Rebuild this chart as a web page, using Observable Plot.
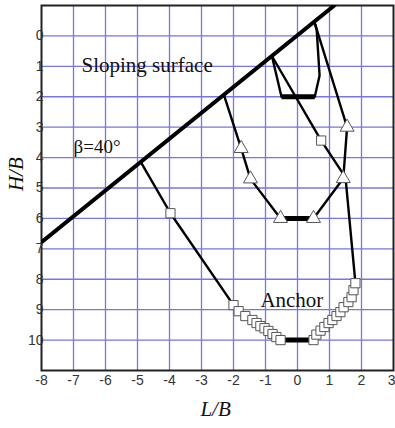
<!DOCTYPE html>
<html>
<head>
<meta charset="utf-8">
<script src="https://cdn.jsdelivr.net/npm/d3@7"></script>
<script src="https://cdn.jsdelivr.net/npm/@observablehq/plot@0.6"></script>
<style>
  body { margin: 0; background: #fff; }
</style>
</head>
<body>
<div id="chart"></div>
<script>
// Axis ticks (L/B horizontally, H/B downward)
const xTickValues = [-8, -7, -6, -5, -4, -3, -2, -1, 0, 1, 2];
const xLastTick = [3];
const yTickValues = [0, 1, 2, 3, 4, 5, 6, 7, 8, 9, 10];
const xGridValues = [-7, -6, -5, -4, -3, -2, -1, 0, 1, 2];
const yGridValues = [0, 1, 2, 3, 4, 5, 6, 7, 8, 9, 10];

// Sloping ground surface (beta = 40 deg)
const surfaceL = [-8, 1.15];
const surfaceH = [6.78, -1];

// Shallow failure surface (no markers)
const shallowL = [-0.8, -0.5, 0.54, 0.69, 0.6, 0.55];
const shallowH = [0.66, 2.0, 2.0, 1.3, -0.2, -0.39];

// Intermediate failure surface (triangles); marked = 1 where a symbol is drawn
const midL = [-2.3, -1.76, -1.47, -0.53, 0.5, 1.43, 1.55, 0.55];
const midH = [1.94, 3.7, 4.7, 6.0, 6.0, 4.69, 3.0, -0.39];
const midMarked = [0, 1, 1, 1, 1, 1, 1, 0];

// Deep failure surface (squares)
const deepL = [-4.9, -3.97, -2.0, -1.84, -1.63, -1.41, -1.28, -1.16, -1.03, -0.91, -0.78, -0.66, -0.53,
               0.5, 0.59, 0.72, 0.84, 0.97, 1.09, 1.22, 1.34, 1.44, 1.59, 1.69, 1.75, 1.81, 1.5, 0.74, -0.8];
const deepH = [4.14, 5.83, 8.85, 9.05, 9.21, 9.34, 9.44, 9.54, 9.61, 9.70, 9.80, 9.90, 10.0,
               10.0, 9.82, 9.69, 9.57, 9.44, 9.34, 9.21, 9.08, 8.92, 8.75, 8.59, 8.36, 8.13, 4.65, 3.44, 0.66];
const deepMarked = [0, 1, 1, 1, 1, 1, 1, 1, 1, 1, 1, 1, 1,
                    1, 1, 1, 1, 1, 1, 1, 1, 1, 1, 1, 1, 1, 0, 1, 0];

// Anchor plates at the three embedment depths
const anchorL1 = [-0.5, -0.53, -0.53];
const anchorL2 = [0.54, 0.5, 0.5];
const anchorH = [2, 6, 10];

// Annotations
const noteText = ["Sloping surface", "\u03B2=40\u00B0", "Anchor"];
const noteL = [-6.75, -7.0, -1.16];
const noteH = [0.95, 3.66, 8.7];

const pts = (L, H, M) => L.map((x, i) => ({x, y: H[i], m: M ? M[i] : 1}));
const surface = pts(surfaceL, surfaceH);
const shallow = pts(shallowL, shallowH);
const mid = pts(midL, midH, midMarked);
const deep = pts(deepL, deepH, deepMarked);
const anchors = anchorH.map((h, i) => ({x1: anchorL1[i], x2: anchorL2[i], y: h}));
const notes = noteText.map((t, i) => ({t, x: noteL[i], y: noteH[i], s: i === 1 ? 19 : 21}));

const serif = "Liberation Serif, Times New Roman, serif";
const sans = "Liberation Sans, Arial, sans-serif";
const gridColor = "#7676e4";
const tickStyle = {tickSize: 0, tickPadding: 5, fontSize: 14, color: "#333",
                   tickFormat: d => String(d), label: null};

const chart = Plot.plot({
  width: 395,
  height: 428,
  marginLeft: 41,
  marginRight: 2,
  marginTop: 5,
  marginBottom: 58,
  style: {fontFamily: sans, background: "#fff"},
  x: {domain: [-8, 3]},
  y: {domain: [-1, 11], reverse: true},
  marks: [
    Plot.gridX(xGridValues, {stroke: gridColor, strokeOpacity: 1, strokeWidth: 1.3}),
    Plot.gridY(yGridValues, {stroke: gridColor, strokeOpacity: 1, strokeWidth: 1.3}),
    Plot.text(notes, {x: "x", y: "y", text: "t", textAnchor: "start", fontFamily: serif,
                      fontSize: "s", fill: "#111", ariaLabel: "note"}),
    Plot.frame({stroke: "#222", strokeWidth: 2}),
    Plot.line(surface, {x: "x", y: "y", stroke: "#000", strokeWidth: 4, clip: true}),
    Plot.line(shallow, {x: "x", y: "y", stroke: "#000", strokeWidth: 2.4}),
    Plot.line(mid, {x: "x", y: "y", stroke: "#000", strokeWidth: 2.4}),
    Plot.line(deep, {x: "x", y: "y", stroke: "#000", strokeWidth: 2.4}),
    Plot.link(anchors, {x1: "x1", x2: "x2", y1: "y", y2: "y", stroke: "#000", strokeWidth: 5}),
    Plot.dot(deep.filter(d => d.m), {x: "x", y: "y", symbol: "square", r: 5.2,
                                     fill: "#fff", stroke: "#555", strokeWidth: 1}),
    Plot.dot(mid.filter(d => d.m), {x: "x", y: "y", symbol: "triangle", r: 5.2,
                                    fill: "#fff", stroke: "#555", strokeWidth: 1}),
    Plot.axisX(xTickValues, tickStyle),
    // the last tick sits on the right edge, so its label is pulled inward
    Plot.axisX(xLastTick, {...tickStyle, textAnchor: "end", dx: 2}),
    Plot.axisY(yTickValues, {...tickStyle, tickPadding: -2}),
    Plot.text(["L/B"], {x: () => -2.56, frameAnchor: "bottom", dy: 45, text: d => d,
                        fontFamily: serif, fontStyle: "italic", fontSize: 21, fill: "#111"}),
    Plot.text(["H/B"], {y: () => 5.1, frameAnchor: "left", dx: -25, rotate: -90, text: d => d,
                        fontFamily: serif, fontStyle: "italic", fontSize: 21, fill: "#111"})
  ]
});

document.getElementById("chart").append(chart);

// White boxes behind the annotations, hiding the grid underneath
const notePad = [[19, 26, 3, 6], [3, 12, 3, 2], [10, 12, 5, 5]]; // left, right, top, bottom
chart.querySelectorAll('g[aria-label="note"] text').forEach((t, i) => {
  const b = t.getBBox();
  const [pl, pr, pt, pb] = notePad[i] || [4, 4, 2, 2];
  const r = document.createElementNS("http://www.w3.org/2000/svg", "rect");
  r.setAttribute("x", b.x - pl);
  r.setAttribute("y", b.y - pt);
  r.setAttribute("width", b.width + pl + pr);
  r.setAttribute("height", b.height + pt + pb);
  r.setAttribute("fill", "#fff");
  t.parentNode.insertBefore(r, t);
});
</script>
</body>
</html>
